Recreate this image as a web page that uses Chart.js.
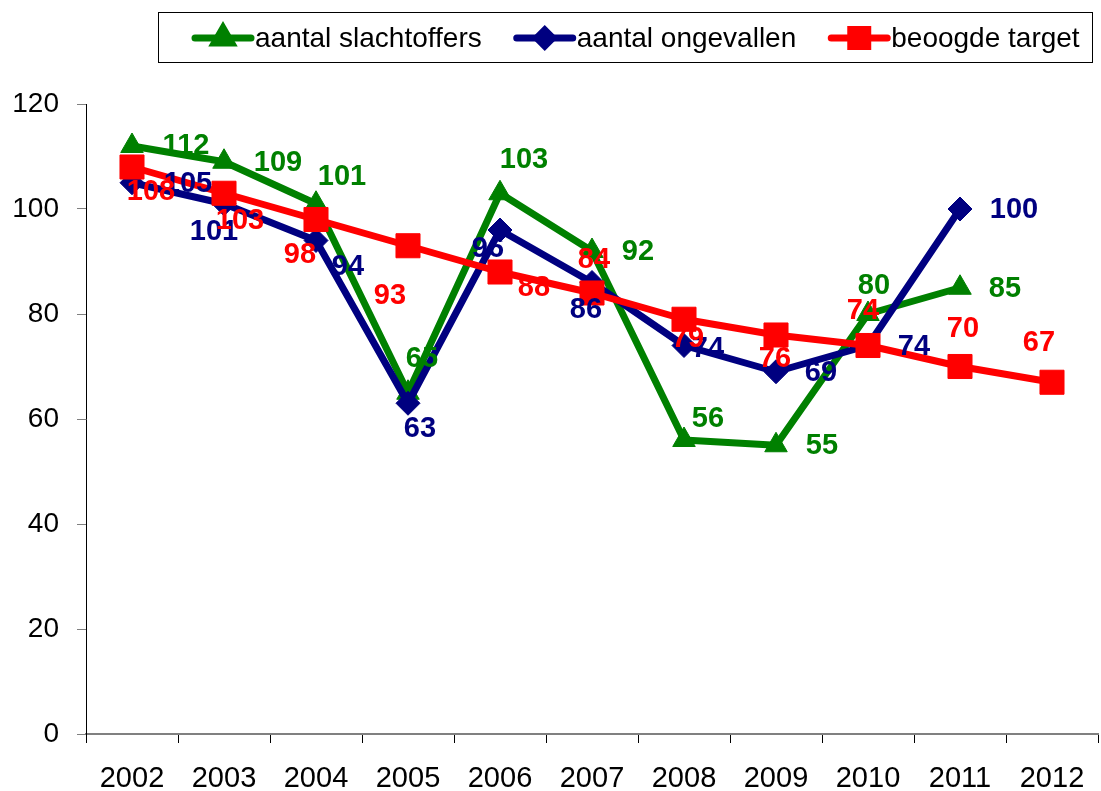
<!DOCTYPE html>
<html>
<head>
<meta charset="utf-8">
<script src="https://cdn.jsdelivr.net/npm/chart.js@4/dist/chart.umd.min.js"></script>
<style>
  html, body { margin: 0; padding: 0; background: #fff; }
  #wrap { width: 1101px; height: 791px; position: relative; }
</style>
</head>
<body>
<div id="wrap"><canvas id="chart"></canvas></div>
<script>
// data
const years = ['2002', '2003', '2004', '2005', '2006', '2007', '2008', '2009', '2010', '2011', '2012'];
const slachtoffers = [112, 109, 101, 65, 103, 92, 56, 55, 80, 85, null];
const ongevallen = [105, 101, 94, 63, 96, 86, 74, 69, 74, 100, null];
const target = [108, 103, 98, 93, 88, 84, 79, 76, 74, 70, 67];

// label placement (dx, dy from point), like the hand-moved excel labels
const greenLabelPos = [[54,-1],[54,0],[26,-28],[14,-35],[24,-34],[46,0],[24,-22],[46,0],[6,-29],[45,0],null];
const navyLabelPos  = [[56,0],[-10,27],[32,25],[12,25],[-12,18],[-6,26],[24,2],[45,0],[46,0],[54,0],null];
const redLabelPos   = [[19,24],[16,27],[-16,34],[-18,49],[34,15],[2,-34],[4,19],[-1,23],[-5,-36],[3,-39],[-13,-40]];

const FONT = "'Liberation Sans', Arial, sans-serif";

// data labels
const labelPlugin = {
  id: 'labels',
  afterDatasetsDraw(chart) {
    const ctx = chart.ctx;
    ctx.save();
    ctx.font = 'bold 29px ' + FONT;
    ctx.textAlign = 'center';
    ctx.textBaseline = 'middle';
    chart.data.datasets.forEach((ds, i) => {
      const meta = chart.getDatasetMeta(i);
      ctx.fillStyle = ds.borderColor;
      meta.data.forEach((pt, j) => {
        const v = ds.data[j];
        const off = ds.labelPos[j];
        if (v == null || !off) return;
        ctx.fillText(String(v), pt.x + off[0], pt.y + off[1] + 1);
      });
    });
    ctx.restore();
  }
};

// legend in a box, line + marker
const legendPlugin = {
  id: 'boxLegend',
  afterDraw(chart) {
    const ctx = chart.ctx;
    ctx.save();
    ctx.strokeStyle = '#000';
    ctx.lineWidth = 1;
    ctx.strokeRect(158.5, 12.5, 934, 50);
    ctx.font = '28px ' + FONT;
    ctx.textBaseline = 'middle';
    let x = 195;
    const y = 38;
    const sizes = [10, 8, 12];
    chart.data.datasets.forEach((ds, i) => {
      ctx.strokeStyle = ds.borderColor;
      ctx.lineWidth = 7;
      ctx.lineCap = 'round';
      ctx.beginPath();
      ctx.moveTo(x, y);
      ctx.lineTo(x + 56, y);
      ctx.stroke();
      ctx.fillStyle = ds.borderColor;
      Chart.helpers.drawPoint(ctx, {
        pointStyle: ds.pointStyle, radius: sizes[i], borderWidth: 1, rotation: 0
      }, x + 28, y);
      ctx.fillStyle = '#000';
      ctx.fillText(ds.label, x + 60, y + 1);
      x = x + 60 + ctx.measureText(ds.label).width + 35;
    });
    ctx.restore();
  }
};

const lineStyle = {
  borderWidth: 7,
  borderJoinStyle: 'round',
  borderCapStyle: 'round',
  pointBorderWidth: 1,
  spanGaps: false
};

new Chart(document.getElementById('chart'), {
  type: 'line',
  data: {
    labels: years,
    datasets: [
      Object.assign({
        label: 'aantal slachtoffers', data: slachtoffers, order: 3,
        borderColor: '#008000', backgroundColor: '#008000',
        pointStyle: 'triangle', pointRadius: 13, labelPos: greenLabelPos
      }, lineStyle),
      Object.assign({
        label: 'aantal ongevallen', data: ongevallen, order: 2,
        borderColor: '#000080', backgroundColor: '#000080',
        pointStyle: 'rectRot', pointRadius: 12, labelPos: navyLabelPos
      }, lineStyle),
      Object.assign({
        label: 'beoogde target', data: target, order: 1,
        borderColor: '#FF0000', backgroundColor: '#FF0000',
        pointStyle: 'rect', pointRadius: 17, labelPos: redLabelPos
      }, lineStyle)
    ]
  },
  options: {
    responsive: true,
    maintainAspectRatio: false,
    animation: false,
    layout: { autoPadding: false, padding: { top: 104, right: 3, left: 0, bottom: 0 } },
    plugins: {
      legend: { display: false },
      tooltip: { enabled: false }
    },
    scales: {
      x: {
        offset: true,
        grid: { drawOnChartArea: false, offset: true, tickLength: 9, color: '#000', lineWidth: 1 },
        border: { color: '#808080', width: 2 },
        ticks: { color: '#000', font: { family: FONT, size: 29 }, padding: 19, maxRotation: 0 },
        afterFit(scale) {
          scale.height = 57;
          scale.paddingLeft = 0;
          scale.paddingRight = 0;
        }
      },
      y: {
        min: 0, max: 120,
        grid: { drawOnChartArea: false, tickLength: 9, color: '#808080', lineWidth: 1 },
        border: { color: '#000', width: 1 },
        ticks: { stepSize: 20, color: '#000', font: { family: FONT, size: 28 }, padding: 18 },
        afterFit(scale) {
          scale.width = 86;
          scale.paddingTop = 0;
          scale.paddingBottom = 0;
        }
      }
    }
  },
  plugins: [labelPlugin, legendPlugin]
});
</script>
</body>
</html>
